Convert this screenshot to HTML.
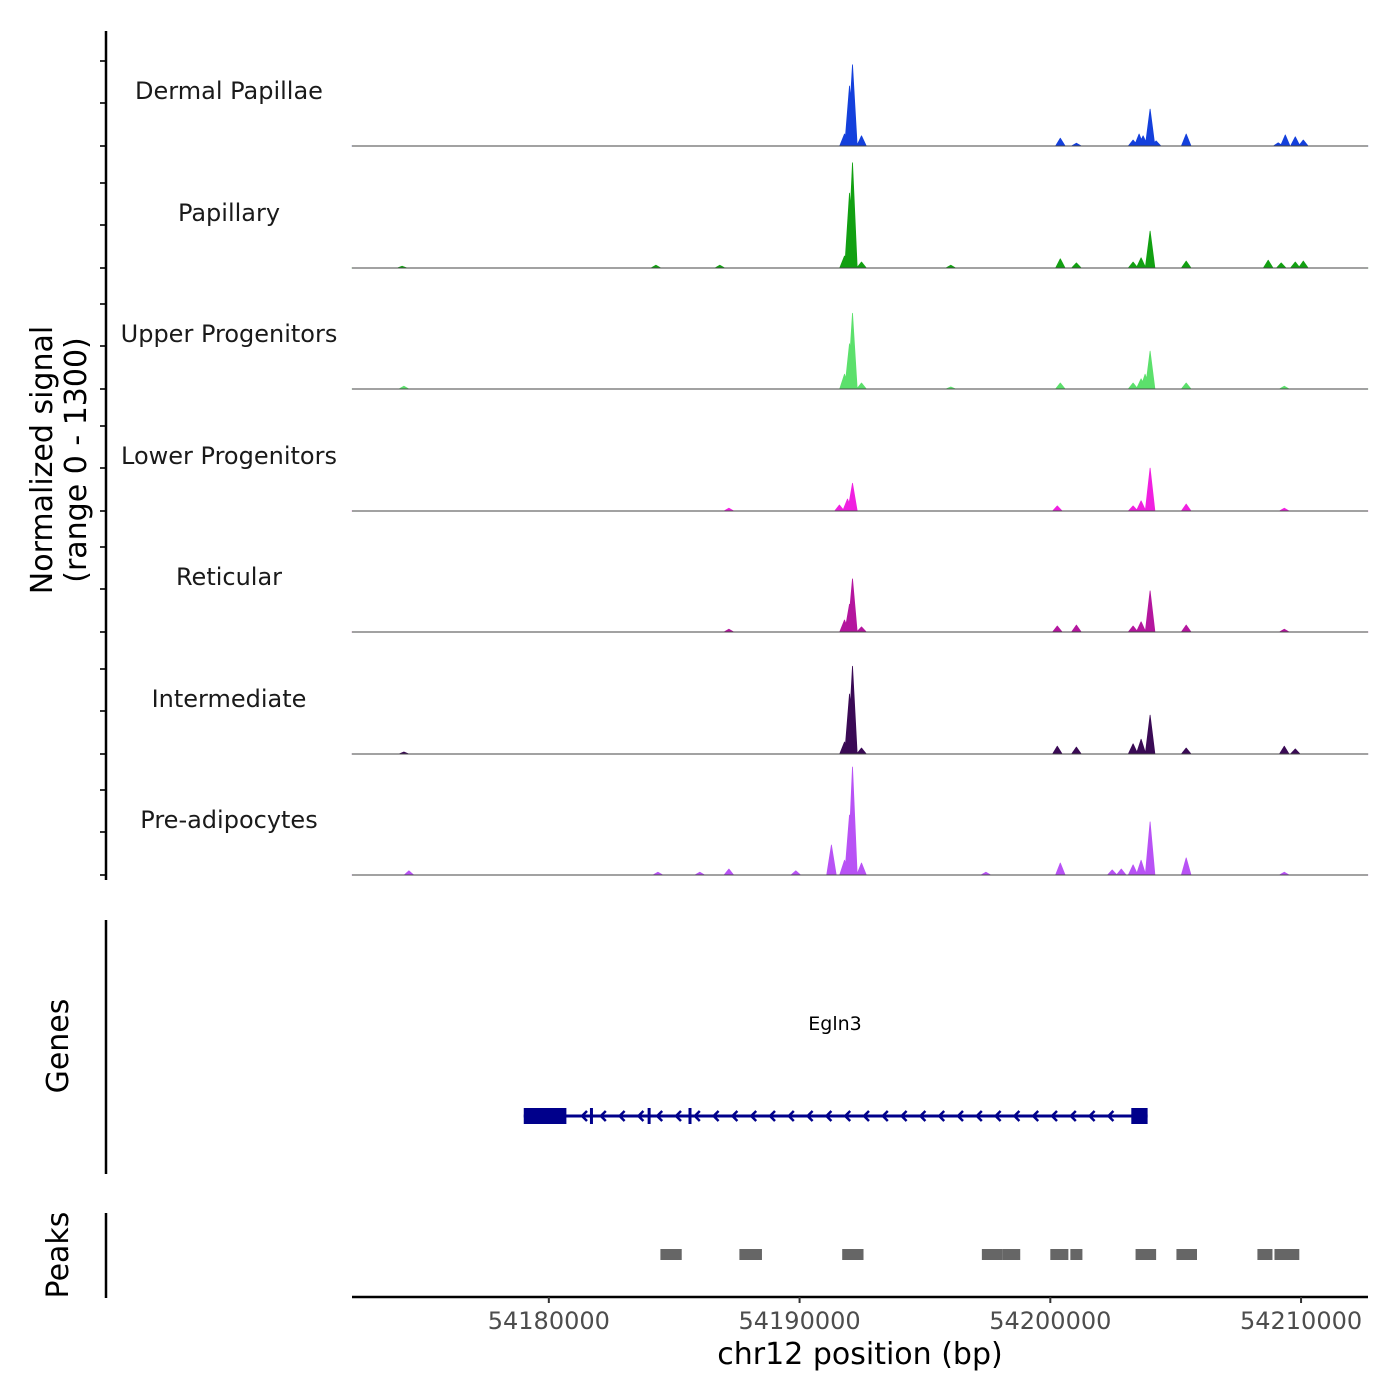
<!DOCTYPE html>
<html><head><meta charset="utf-8"><style>body{margin:0;background:#fff}svg{display:block;font-family:"DejaVu Sans","Liberation Sans",sans-serif}</style></head>
<body>
<svg id="c" width="1400" height="1400" viewBox="0 0 1400 1400"></svg>
<script>
const xTickValues=[54180000,54190000,54200000,54210000];
const trackNames=["Dermal Papillae","Papillary","Upper Progenitors","Lower Progenitors","Reticular","Intermediate","Pre-adipocytes"];
const trackColors=["#1440dc","#12a012","#5ce06c","#f020e0","#b4169e","#3a0a55","#b852f5"];
// peaks per track: [bp, signal]
const dermalPeaks=[[54191790,130],[54191990,650],[54192110,880],[54192470,110],[54200400,85],[54201040,30],[54203300,65],[54203540,130],[54203700,110],[54203980,400],[54204220,55],[54205420,130],[54209090,35],[54209370,120],[54209770,100],[54210090,65]];
const papillaryPeaks=[[54174150,20],[54184270,30],[54186820,30],[54191790,130],[54191990,810],[54192110,1140],[54192470,65],[54196030,30],[54200400,100],[54201040,55],[54203300,65],[54203620,110],[54203980,400],[54205420,75],[54208690,85],[54209210,55],[54209770,65],[54210090,75]];
const upperPeaks=[[54174220,30],[54191790,160],[54191990,490],[54192110,820],[54192470,65],[54196030,22],[54200400,65],[54203300,65],[54203620,110],[54203780,160],[54203980,410],[54205420,65],[54209330,30]];
const lowerPeaks=[[54187180,30],[54191590,65],[54191910,130],[54192110,300],[54200280,55],[54203300,55],[54203620,110],[54203980,465],[54205420,75],[54209330,30]];
const reticularPeaks=[[54187180,30],[54191790,130],[54191990,300],[54192110,575],[54192470,55],[54200280,65],[54201040,75],[54203300,65],[54203620,110],[54203980,445],[54205420,75],[54209330,30]];
const intermediatePeaks=[[54174220,22],[54191790,130],[54191990,650],[54192110,950],[54192470,65],[54200280,85],[54201040,75],[54203300,110],[54203620,160],[54203980,420],[54205420,65],[54209330,85],[54209770,55]];
const preadipoPeaks=[[54174420,45],[54184350,30],[54187180,65],[54186020,30],[54189850,45],[54191270,325],[54191790,160],[54191990,650],[54192110,1170],[54192470,130],[54197430,30],[54200400,130],[54202470,55],[54202830,65],[54203300,110],[54203620,160],[54203980,575],[54205420,185],[54209330,30]];
const allPeaks=[dermalPeaks,papillaryPeaks,upperPeaks,lowerPeaks,reticularPeaks,intermediatePeaks,preadipoPeaks];
const peakRegions=[[54184450,54185300],[54187600,54188500],[54191700,54192550],[54197270,54198100],[54198100,54198800],[54200000,54200720],[54200800,54201280],[54203400,54204220],[54205030,54205850],[54208260,54208860],[54208940,54209930]];
const geneStart=54179000, geneEnd=54203880;
const utrBoxes=[[54179000,54180700],[54203230,54203880]];
const exonLines=[54181700,54184000,54185630];

const S=document.getElementById('c'),NS='http://www.w3.org/2000/svg';
function el(t,a,p){const e=document.createElementNS(NS,t);for(const k in a)e.setAttribute(k,a[k]);(p||S).appendChild(e);return e;}
const X0=54172150,X1=54212670,PX0=352,PX1=1368;
const xs=v=>PX0+(v-X0)/(X1-X0)*(PX1-PX0);
const baselines=[146,268,389,511,632,754,875];
const ys=(b,v)=>b-v/1300*120;
const HW=190;
allPeaks.forEach((pk,i)=>{
  const b=baselines[i];
  const g=el('g',{});
  
  
  const srt=pk.slice().sort((a,c)=>a[0]-c[0]);
  let d='M'+PX0+','+b;
  srt.forEach(p=>{d+=' L'+xs(p[0]-HW).toFixed(1)+','+b+' L'+xs(p[0]).toFixed(1)+','+ys(b,p[1]).toFixed(1)+' L'+xs(p[0]+HW).toFixed(1)+','+b;});
  d+=' L'+PX1+','+b+' Z';
  const a=el('path',{d:d,fill:trackColors[i],stroke:trackColors[i],'stroke-width':0.8,'stroke-linejoin':'round'},g);
  
  
  const l=el('line',{x1:PX0,x2:PX1,y1:b,y2:b,stroke:'#444','stroke-width':1},g);
  
  
  const t=el('text',{x:229,y:b-47,'text-anchor':'middle','font-size':24,fill:'#1a1a1a'},g);
  t.textContent=trackNames[i];
  
  
  [b-85,b-43,b].forEach(y=>{const tk=el('line',{x1:100,x2:106,y1:y,y2:y,stroke:'#333','stroke-width':2});
    
    });
});
const ya=el('line',{x1:106,x2:106,y1:31,y2:880,stroke:'#000','stroke-width':2.5});


function rt(txt,x,y,name){const t=el('text',{x:x,y:y,'text-anchor':'middle','font-size':30,transform:'rotate(-90 '+x+' '+y+')'});t.textContent=txt;
  
  }
rt('Normalized signal',52,460,'y-axis-title');
rt('(range 0 - 1300)',86,460,'y-axis-subtitle');
rt('Genes',68,1046,'genes-axis-title');
rt('Peaks',68,1255,'peaks-axis-title');
const ga=el('line',{x1:106,x2:106,y1:920,y2:1174,stroke:'#000','stroke-width':2.5});


const pa=el('line',{x1:106,x2:106,y1:1213,y2:1298,stroke:'#000','stroke-width':2.5});


const gg=el('g',{});


const GY=1116,GC='#00008b';
el('line',{x1:xs(geneStart),x2:xs(geneEnd),y1:GY,y2:GY,stroke:GC,'stroke-width':3},gg);
utrBoxes.forEach(u=>el('rect',{x:xs(u[0]),y:GY-8,width:xs(u[1])-xs(u[0]),height:16,fill:GC},gg));
exonLines.forEach(e=>el('line',{x1:xs(e),x2:xs(e),y1:GY-8,y2:GY+8,stroke:GC,'stroke-width':3},gg));
for(let x=582;x<1125;x+=18.8){el('path',{d:'M'+(x+5)+','+(GY-5)+' L'+x+','+GY+' L'+(x+5)+','+(GY+5),fill:'none',stroke:GC,'stroke-width':2.5},gg);}
const gl=el('text',{x:835,y:1030,'text-anchor':'middle','font-size':19},gg);gl.textContent='Egln3';


peakRegions.forEach(p=>{const r=el('rect',{x:xs(p[0]),y:1249,width:xs(p[1])-xs(p[0]),height:11,fill:'#666'});
  
  });
const xa=el('line',{x1:PX0,x2:PX1,y1:1297,y2:1297,stroke:'#000','stroke-width':2.5});


xTickValues.forEach(v=>{const tk=el('line',{x1:xs(v),x2:xs(v),y1:1297,y2:1303,stroke:'#333','stroke-width':2});
  
  
  const t=el('text',{x:xs(v),y:1329,'text-anchor':'middle','font-size':24,fill:'#4d4d4d'});t.textContent=v;
  
  });
const xt=el('text',{x:860,y:1364,'text-anchor':'middle','font-size':30});xt.textContent='chr12 position (bp)';


</script>
</body></html>
